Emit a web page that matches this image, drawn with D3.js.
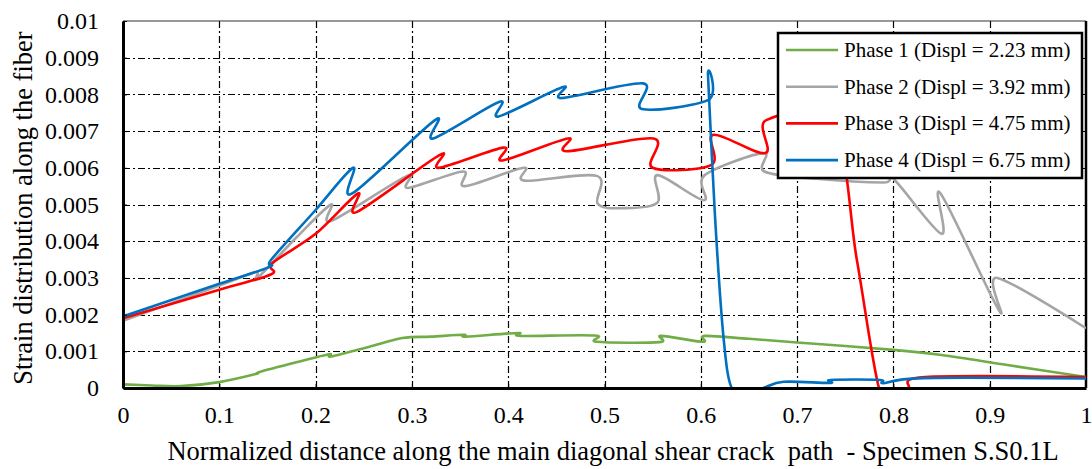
<!DOCTYPE html>
<html><head><meta charset="utf-8">
<script src="https://cdn.jsdelivr.net/npm/d3@7"></script>
<style>html,body{margin:0;padding:0;background:#fff}svg{display:block}</style>
</head><body>
<script>
const xTicks = [0,0.1,0.2,0.3,0.4,0.5,0.6,0.7,0.8,0.9,1];
const yTicks = [0,0.001,0.002,0.003,0.004,0.005,0.006,0.007,0.008,0.009,0.01];
const xTickLabels = ["0","0.1","0.2","0.3","0.4","0.5","0.6","0.7","0.8","0.9","1"];
const yTickLabels = ["0","0.001","0.002","0.003","0.004","0.005","0.006","0.007","0.008","0.009","0.01"];
const seriesNames = ["Phase 1 (Displ = 2.23 mm)","Phase 2 (Displ = 3.92 mm)","Phase 3 (Displ = 4.75 mm)","Phase 4 (Displ = 6.75 mm)"];
const seriesColors = ["#70AD47","#A5A5A5","#FF0000","#0070C0"];
const phase1 = [[0,0.0001],[0.03,0.00007],[0.06,0.00005],[0.1,0.00016],[0.138,0.00038],[0.141,0.00043],[0.18,0.0007],[0.214,0.00092],[0.216,0.00086],[0.255,0.00112],[0.29,0.00136],[0.32,0.0014],[0.354,0.00145],[0.356,0.0014],[0.41,0.0015],[0.413,0.00142],[0.49,0.00143],[0.492,0.00126],[0.557,0.00125],[0.559,0.00142],[0.602,0.00126],[0.604,0.00142],[0.65,0.00134],[0.7,0.00124],[0.8,0.00104],[0.85,0.0009],[0.92,0.00062],[1.0,0.0003]];
const phase2 = [[0,0.00183],[0.1,0.00279],[0.138,0.00316],[0.139,0.00298],[0.18,0.0041],[0.216,0.0050],[0.216,0.00455],[0.295,0.00578],[0.296,0.00545],[0.353,0.0059],[0.355,0.0055],[0.416,0.006],[0.417,0.00565],[0.492,0.00578],[0.493,0.00502],[0.52,0.0049],[0.555,0.00505],[0.555,0.0058],[0.603,0.00512],[0.604,0.0058],[0.665,0.0064],[0.666,0.0059],[0.72,0.0057],[0.79,0.0056],[0.8,0.0057],[0.85,0.0042],[0.849,0.0053],[0.91,0.0021],[0.908,0.003],[1.0,0.00163]];
const phase3 = [[0,0.0019],[0.1,0.00268],[0.154,0.0031],[0.155,0.0034],[0.2,0.0042],[0.244,0.0053],[0.243,0.0048],[0.329,0.00635],[0.328,0.006],[0.395,0.00655],[0.394,0.0062],[0.462,0.0068],[0.461,0.00645],[0.551,0.0068],[0.55,0.006],[0.611,0.00608],[0.613,0.0069],[0.667,0.0064],[0.668,0.0073],[0.737,0.0072],[0.762,0.0035],[0.785,0],[0.8,-0.0001],[0.815,0],[0.833,0.0003],[1.0,0.0003]];
const phase4 = [[0,0.00195],[0.1,0.00284],[0.152,0.0033],[0.154,0.0035],[0.2,0.00485],[0.239,0.006],[0.238,0.0053],[0.324,0.0073],[0.322,0.0068],[0.391,0.0078],[0.39,0.0074],[0.457,0.0082],[0.456,0.0079],[0.54,0.0083],[0.539,0.0076],[0.608,0.00785],[0.6075,0.0085],[0.6147,0.0047],[0.6235,0.0014],[0.632,0],[0.648,-0.00012],[0.665,0],[0.686,0.00017],[0.734,0.00014],[0.735,0.00022],[0.786,0.00022],[0.79,0.00013],[0.831,0.00027],[1.0,0.00026]];
const allSeries = [phase1, phase2, phase3, phase4];
const xTitle = "Normalized distance along the main diagonal shear crack  path  - Specimen S.S0.1L";
const yTitle = "Strain distribution along the fiber";

const W = 1092, H = 469;
const L = 123, R = 1086, T = 21, B = 388;
const font = "'Liberation Serif','Times New Roman',serif";
const svg = d3.select("body").append("svg").attr("width", W).attr("height", H);
const x = d3.scaleLinear().domain([0,1]).range([L,R]);
const y = d3.scaleLinear().domain([0,0.01]).range([B,T]);

// grid
const grid = svg.append("g").attr("stroke","#000").attr("stroke-width",1.2).attr("stroke-dasharray","7,3,2,3");
grid.selectAll(".gx").data(xTicks.slice(1,-1)).join("line")
  .attr("x1",d=>Math.round(x(d))+0.5).attr("x2",d=>Math.round(x(d))+0.5).attr("y1",B).attr("y2",T);
grid.selectAll(".gy").data(yTicks.slice(1,-1)).join("line")
  .attr("y1",d=>Math.round(y(d))+0.5).attr("y2",d=>Math.round(y(d))+0.5).attr("x1",L).attr("x2",R);

// top / right border
svg.append("line").attr("x1",L).attr("x2",R).attr("y1",T).attr("y2",T).attr("stroke","#333").attr("stroke-width",1.2);
svg.append("line").attr("x1",R).attr("x2",R).attr("y1",T).attr("y2",B).attr("stroke","#000").attr("stroke-width",2.5);

// series
svg.append("clipPath").attr("id","clip").append("rect").attr("x",L).attr("y",T-10).attr("width",R-L).attr("height",B-T+10);
const line = d3.line().x(d=>x(d[0])).y(d=>y(d[1])).curve(d3.curveCardinal.tension(0));
const sg = svg.append("g").attr("clip-path","url(#clip)");
allSeries.forEach((s,i)=>{
  sg.append("path").attr("d",line(s)).attr("fill","none").attr("stroke",seriesColors[i]).attr("stroke-width",2.6).attr("stroke-linejoin","round");
});

// axes
const xAxis = d3.axisBottom(x).tickValues(xTicks).tickFormat((d,i)=>xTickLabels[i]).tickSizeInner(-4).tickSizeOuter(0).tickPadding(18);
const gx = svg.append("g").attr("transform",`translate(0,${B})`).call(xAxis);
gx.select(".domain").attr("stroke","#000").attr("stroke-width",3);
gx.selectAll("text").attr("font-family",font).attr("font-size",24).attr("fill","#000");
const yAxis = d3.axisLeft(y).tickValues(yTicks).tickFormat((d,i)=>yTickLabels[i]).tickSizeInner(-4).tickSizeOuter(0).tickPadding(24);
const gy = svg.append("g").attr("transform",`translate(${L},0)`).call(yAxis);
gy.select(".domain").attr("stroke","#000").attr("stroke-width",3);
gy.selectAll("text").attr("font-family",font).attr("font-size",24).attr("fill","#000");

// titles
svg.append("text").attr("x",613).attr("y",460).attr("text-anchor","middle").attr("font-family",font).attr("font-size",26.5).style("white-space","pre").text(xTitle);
svg.append("text").attr("transform",`translate(32,208) rotate(-90)`).attr("text-anchor","middle").attr("font-family",font).attr("font-size",26.5).text(yTitle);

// legend
const lg = svg.append("g");
lg.append("rect").attr("x",778).attr("y",33).attr("width",304).attr("height",145).attr("fill","#fff").attr("stroke","#000").attr("stroke-width",2.5);
seriesNames.forEach((n,i)=>{
  const yy = 50 + i*36.7;
  lg.append("line").attr("x1",786).attr("x2",838).attr("y1",yy).attr("y2",yy).attr("stroke",seriesColors[i]).attr("stroke-width",2.6);
  lg.append("text").attr("x",844).attr("y",yy+7).attr("font-family",font).attr("font-size",21).text(n);
});
</script>
</body></html>
